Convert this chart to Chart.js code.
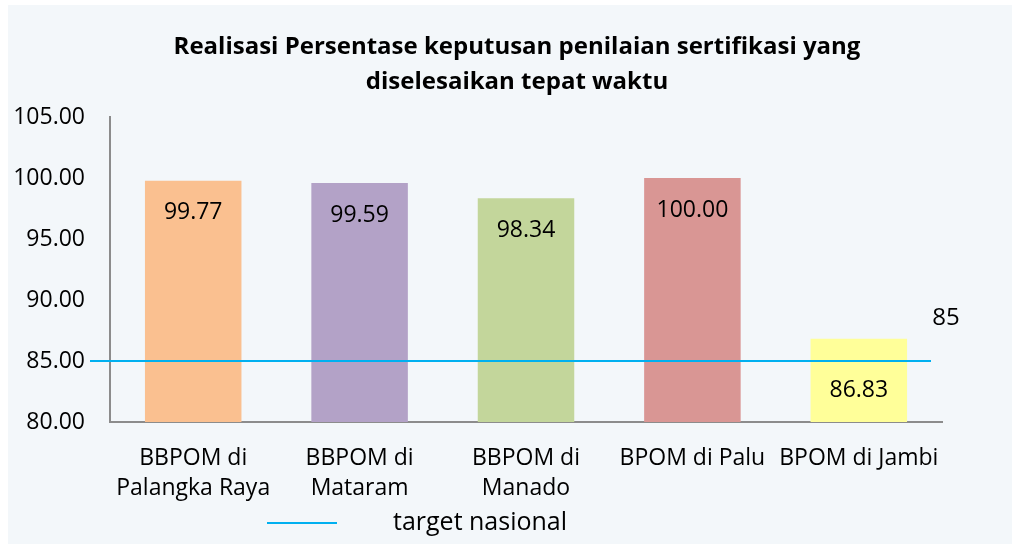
<!DOCTYPE html>
<html><head><meta charset="utf-8">
<script src="https://cdn.jsdelivr.net/npm/chart.js@4.4.1/dist/chart.umd.min.js"></script>
<style>html,body{margin:0;padding:0;background:#fff}#wrap{width:1012px;height:544px}</style>
</head><body><div id="wrap"><canvas id="c" width="1012" height="544"></canvas></div>
<script>
const categories = [["BBPOM di","Palangka Raya"],["BBPOM di","Mataram"],["BBPOM di","Manado"],"BPOM di Palu","BPOM di Jambi"];
const realisasi = [99.77, 99.59, 98.34, 100.00, 86.83];
const targetNasional = 85;
const yTicks = [80, 85, 90, 95, 100, 105];
const barColors = ["#FAC090", "#B3A2C7", "#C3D69B", "#D99694", "#FFFF99"];
const titleLines = ["Realisasi Persentase keputusan penilaian sertifikasi yang", "diselesaikan tepat waktu"];
const legendLabel = "target nasional";

const FONT = "'Open Sans', 'DejaVu Sans', sans-serif";

const bgPlugin = {
  id: 'bg',
  beforeDraw(chart) {
    const ctx = chart.ctx;
    ctx.save();
    ctx.fillStyle = '#ffffff';
    ctx.fillRect(0, 0, chart.width, chart.height);
    ctx.fillStyle = '#F3F7FA';
    ctx.fillRect(8, 5, chart.width - 8, chart.height - 5);
    ctx.restore();
  }
};

const overlayPlugin = {
  id: 'overlay',
  afterDatasetsDraw(chart) {
    const ctx = chart.ctx;
    const y = chart.scales.y;
    const area = chart.chartArea;
    const ty = y.getPixelForValue(targetNasional);
    const baseY = y.getPixelForValue(y.min);
    ctx.save();
    // title
    ctx.fillStyle = '#000';
    ctx.font = "bold 24px " + FONT;
    ctx.textAlign = 'center';
    ctx.textBaseline = 'middle';
    ctx.fillText(titleLines[0], 517, 47);
    ctx.fillText(titleLines[1], 517, 82);
    // target line
    ctx.strokeStyle = '#00B0F0';
    ctx.lineWidth = 2;
    ctx.beginPath();
    ctx.moveTo(area.left - 20, ty);
    ctx.lineTo(area.right - 11, ty);
    ctx.stroke();
    // target label
    ctx.font = "24px " + FONT;
    ctx.fillText(String(targetNasional), area.right + 4, ty - 43);
    // bar value labels
    const meta = chart.getDatasetMeta(0);
    ctx.font = "23px " + FONT;
    meta.data.forEach((bar, i) => {
      let ly = bar.y + 32;
      if (ly > ty - 14) ly = baseY - 32;
      ctx.fillText(realisasi[i].toFixed(2), bar.x, ly);
    });
    // legend
    const lgY = 523;
    ctx.strokeStyle = '#00B0F0';
    ctx.lineWidth = 2;
    ctx.beginPath();
    ctx.moveTo(267, lgY);
    ctx.lineTo(337, lgY);
    ctx.stroke();
    ctx.font = "25px " + FONT;
    ctx.textAlign = 'left';
    ctx.fillText(legendLabel, 393, lgY);
    ctx.restore();
  }
};

new Chart(document.getElementById('c'), {
  type: 'bar',
  data: {
    labels: categories,
    datasets: [{
      label: 'Realisasi',
      data: realisasi,
      backgroundColor: barColors,
      borderWidth: 0,
      categoryPercentage: 0.58,
      barPercentage: 1.0
    }]
  },
  options: {
    responsive: false,
    animation: false,
    devicePixelRatio: 1,
    layout: { padding: { left: 8, right: 70, top: 117, bottom: 42 } },
    plugins: {
      legend: { display: false },
      tooltip: { enabled: false },
      title: { display: false }
    },
    scales: {
      x: {
        grid: { display: false, drawTicks: false },
        border: { display: true, color: '#8C8C8C', width: 2 },
        ticks: { color: '#000', font: { family: FONT, size: 23, lineHeight: 1.3 }, padding: 22, maxRotation: 0, autoSkip: false },
        afterFit(scale) { scale.height = 80; }
      },
      y: {
        min: 80, max: 105,
        afterBuildTicks(scale) { scale.ticks = yTicks.map(v => ({ value: v })); },
        grid: { display: false, drawTicks: false },
        border: { display: true, color: '#8C8C8C', width: 2 },
        ticks: { color: '#000', font: { family: FONT, size: 23 }, padding: 25, callback: v => Number(v).toFixed(2) },
        afterFit(scale) { scale.width = 102; }
      }
    }
  },
  plugins: [bgPlugin, overlayPlugin]
});
</script></body></html>
